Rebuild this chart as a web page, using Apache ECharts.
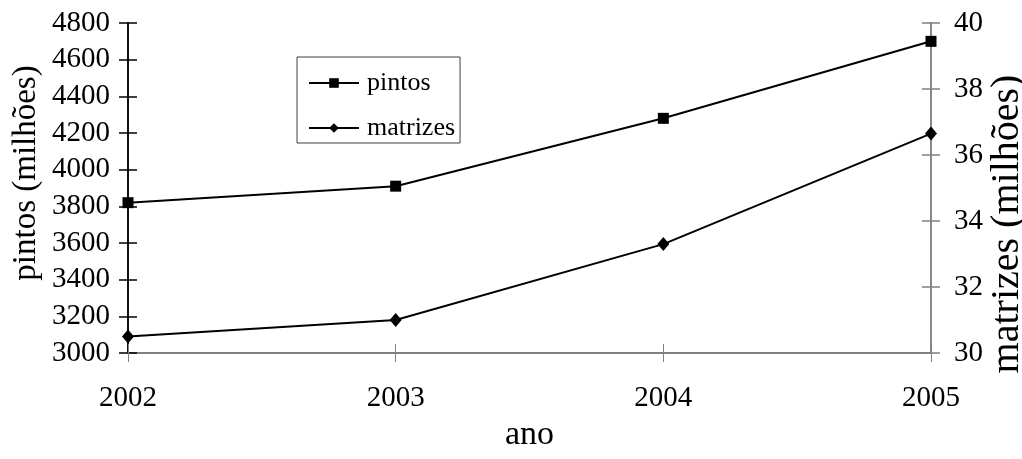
<!DOCTYPE html>
<html>
<head>
<meta charset="utf-8">
<script src="https://cdn.jsdelivr.net/npm/echarts@6/dist/echarts.min.js"></script>
<style>
  html, body { margin: 0; padding: 0; background: #fff; }
  #chart { width: 1022px; height: 459px; }
</style>
</head>
<body>
<div id="chart"></div>
<script>
// Produção anual: pintos (eixo esquerdo) e matrizes (eixo direito), em milhões
const years = ['2002', '2003', '2004', '2005'];
const pintos = [3820, 3910, 4280, 4700];
const matrizes = [30.5, 31.0, 33.3, 36.65];

const leftScale = { min: 3000, max: 4800, interval: 200 };
const rightScale = { min: 30, max: 40, interval: 2 };

const FONT = '"Liberation Serif", "Times New Roman", serif';
const tickFont = { fontFamily: FONT, fontSize: 29, color: '#000', formatter: v => String(v) };

const chart = echarts.init(document.getElementById('chart'));

// Each axis is drawn twice (outside ticks + inside ticks) so the ticks cross the axis line.
function xAxisPair() {
  const base = {
    type: 'category', data: years, boundaryGap: false, position: 'bottom',
    axisLine: { show: true, lineStyle: { color: '#808080', width: 2 } },
    splitLine: { show: false }
  };
  return [
    Object.assign({}, base, {
      axisTick: { show: true, length: 9, inside: false, lineStyle: { color: '#808080', width: 1 } },
      axisLabel: Object.assign({ margin: 31 }, tickFont),
      name: 'ano', nameLocation: 'middle', nameGap: 65, nameMoveOverlap: false,
      nameTextStyle: { fontFamily: FONT, fontSize: 34, color: '#000' }
    }),
    Object.assign({}, base, {
      axisTick: { show: true, length: 9, inside: true, lineStyle: { color: '#808080', width: 1 } },
      axisLabel: { show: false }
    })
  ];
}

function yAxisPair(scale, position, color, labelMargin, name, nameGap, nameSize, namePadding) {
  const base = Object.assign({
    type: 'value', position: position,
    axisLine: { show: true, lineStyle: { color: color, width: 1.5 } },
    splitLine: { show: false }
  }, scale);
  return [
    Object.assign({}, base, {
      axisTick: { show: true, length: 9, inside: false, lineStyle: { color: color, width: 1.5 } },
      axisLabel: Object.assign({ margin: labelMargin }, tickFont),
      name: name, nameLocation: 'middle', nameGap: nameGap, nameRotate: 90, nameMoveOverlap: false,
      nameTextStyle: { fontFamily: FONT, fontSize: nameSize, color: '#000', padding: namePadding }
    }),
    Object.assign({}, base, {
      axisTick: { show: true, length: 9, inside: true, lineStyle: { color: color, width: 1.5 } },
      axisLabel: { show: false }
    })
  ];
}

const leftAxes = yAxisPair(leftScale, 'left', '#000', 18, 'pintos (milhões)', 85, 33, [0, 0, 0, 30]);
const rightAxes = yAxisPair(rightScale, 'right', '#808080', 23, 'matrizes (milhões)', 56, 40, [0, 72, 0, 0]);

chart.setOption({
  animation: false,
  backgroundColor: '#fff',
  grid: { left: 128, right: 91, top: 23, bottom: 106, containLabel: false, outerBoundsMode: 'none' },
  legend: {
    orient: 'vertical', left: 297, top: 57,
    padding: [13, 5, 2, 11],
    itemWidth: 50, itemHeight: 12, itemGap: 19,
    borderColor: '#404040', borderWidth: 1,
    textStyle: { fontFamily: FONT, fontSize: 26, color: '#000', padding: [0, 0, 0, 3] },
    data: ['pintos', 'matrizes']
  },
  xAxis: xAxisPair(),
  yAxis: [leftAxes[0], rightAxes[0], leftAxes[1], rightAxes[1]],
  series: [
    {
      name: 'pintos', type: 'line', data: pintos, yAxisIndex: 0,
      symbol: 'rect', symbolSize: 11, showAllSymbol: true,
      lineStyle: { color: '#000', width: 2 },
      itemStyle: { color: '#000' }
    },
    {
      name: 'matrizes', type: 'line', data: matrizes, yAxisIndex: 1,
      symbol: 'diamond', symbolSize: [12, 14], showAllSymbol: true,
      lineStyle: { color: '#000', width: 2 },
      itemStyle: { color: '#000' }
    }
  ]
});
</script>
</body>
</html>
